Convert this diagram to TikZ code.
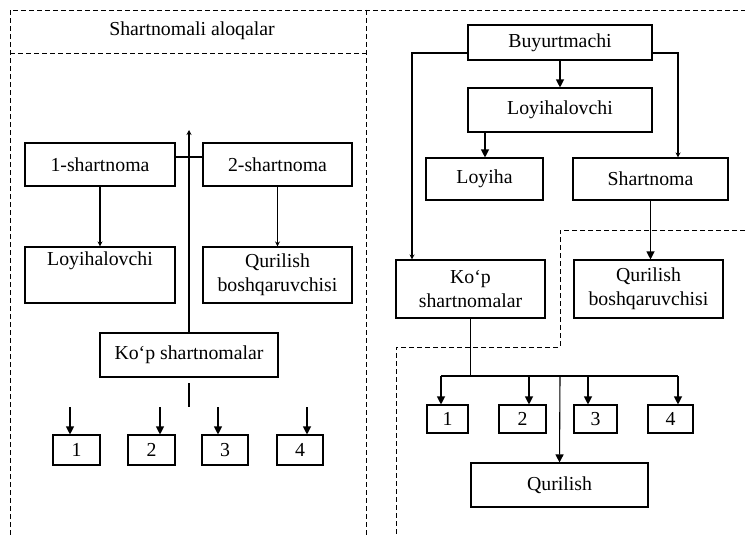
\documentclass[tikz,border=0pt]{standalone}
\usepackage{fontspec}
\setmainfont{Liberation Serif}
\usetikzlibrary{arrows.meta}
\begin{document}
\begin{tikzpicture}[x=1pt,y=-1pt,
  every node/.style={font=\fontsize{19.8}{24}\selectfont},
  box/.style={draw,line width=1.1pt,inner sep=0pt,align=center},
  link/.style={line width=1.1pt},
  smallarr/.style={link,-{Stealth[length=5pt,width=5pt]}},
  bigarr/.style={link,-{Triangle[length=8pt,width=8pt]}},
  frame/.style={line width=0.9pt,dash pattern=on 5pt off 3pt}]
\useasboundingbox (0,0) rectangle (749,535);
% frames
\draw[frame] (10,535) -- (10,10) -- (745,10);
\draw[frame] (10,53) -- (366,53);
\draw[frame] (366,10) -- (366,535);
\draw[frame] (745,230) -- (560,230) -- (560,347) -- (396,347) -- (396,535);
\node (title) at (192,31) {Shartnomali aloqalar};
% left panel
\node[box,minimum width=150pt,minimum height=43pt] (t1) at (100,164.5) {1-shartnoma};
\node[box,minimum width=149pt,minimum height=43pt] (t2) at (277.5,164.5) {2-shartnoma};
\node[box,minimum width=150pt,minimum height=56pt] (lo1) at (100,275) {Loyihalovchi\\[8pt]};
\node[box,minimum width=149pt,minimum height=56pt] (qb1) at (277.5,275) {Qurilish\\boshqaruvchisi};
\node[box,minimum width=178pt,minimum height=44pt] (kp1) at (189,355) {Ko‘p shartnomalar};
\node[box,minimum width=47pt,minimum height=30pt] (n1) at (76.5,450) {1};
\node[box,minimum width=47pt,minimum height=30pt] (n2) at (151.5,450) {2};
\node[box,minimum width=46pt,minimum height=30pt] (n3) at (225,450) {3};
\node[box,minimum width=46pt,minimum height=30pt] (n4) at (300,450) {4};
\coordinate (hl) at (0,157);
\coordinate (up) at (189,130);
\coordinate (s1) at (189,383);
\coordinate (s2) at (189,407);
\coordinate (a1) at (70,407);
\coordinate (a2) at (160,407);
\coordinate (a3) at (218,407);
\coordinate (a4) at (307,407);
\draw[link] (t1.east |- hl) -- (t2.west |- hl);
\draw[smallarr] (kp1.north) -- (up);
\draw[smallarr] (t1.south) -- (lo1.north);
\draw[smallarr] (t2.south) -- (qb1.north);
\draw[link] (s1) -- (s2);
\draw[bigarr] (a1) -- (a1 |- n1.north);
\draw[bigarr] (a2) -- (a2 |- n2.north);
\draw[bigarr] (a3) -- (a3 |- n3.north);
\draw[bigarr] (a4) -- (a4 |- n4.north);
% right panel
\node[box,minimum width=184pt,minimum height=35pt] (by) at (560,42.5) {Buyurtmachi};
\node[box,minimum width=184pt,minimum height=44pt] (lo2) at (560,110) {Loyihalovchi};
\node[box,minimum width=117pt,minimum height=42pt] (ly) at (484.5,179) {Loyiha};
\node[box,minimum width=155pt,minimum height=42pt] (sh) at (650.5,179) {Shartnoma};
\node[box,minimum width=149pt,minimum height=58pt] (kp2) at (470.5,289) {Ko‘p\\shartnomalar};
\node[box,minimum width=149pt,minimum height=58pt] (qb2) at (648.5,289) {Qurilish\\boshqaruvchisi};
\node[box,minimum width=41pt,minimum height=28pt] (r1) at (447.5,419) {1};
\node[box,minimum width=47pt,minimum height=28pt] (r2) at (522.5,419) {2};
\node[box,minimum width=43pt,minimum height=28pt] (r3) at (595.5,419) {3};
\node[box,minimum width=45pt,minimum height=28pt] (r4) at (670.5,419) {4};
\node[box,minimum width=177pt,minimum height=44pt] (qr) at (559.5,485) {Qurilish};
\coordinate (byl) at (412,53);
\coordinate (byr) at (678,53);
\coordinate (bus) at (0,376);
\coordinate (b1) at (441,376);
\coordinate (b2) at (529,376);
\coordinate (b3) at (588,376);
\coordinate (b4) at (678,376);
\coordinate (bq) at (560,376);
\draw[smallarr] (by.west |- byl) -- (byl) -- (byl |- kp2.north);
\draw[smallarr] (by.east |- byr) -- (byr) -- (byr |- sh.north);
\draw[bigarr] (by.south) -- (lo2.north);
\draw[bigarr] ([xshift=-75pt]lo2.south) -- ([xshift=-75pt]lo2.south |- ly.north);
\draw[bigarr] (sh.south) -- (sh.south |- qb2.north);
\draw[link] (kp2.south) -- (kp2.south |- bus);
\draw[link] (b1) -- (b4);
\draw[bigarr] (b1) -- (b1 |- r1.north);
\draw[bigarr] (b2) -- (b2 |- r2.north);
\draw[bigarr] (b3) -- (b3 |- r3.north);
\draw[bigarr] (b4) -- (b4 |- r4.north);
\draw[bigarr] (bq) -- (qr.north);
\end{tikzpicture}
\end{document}
